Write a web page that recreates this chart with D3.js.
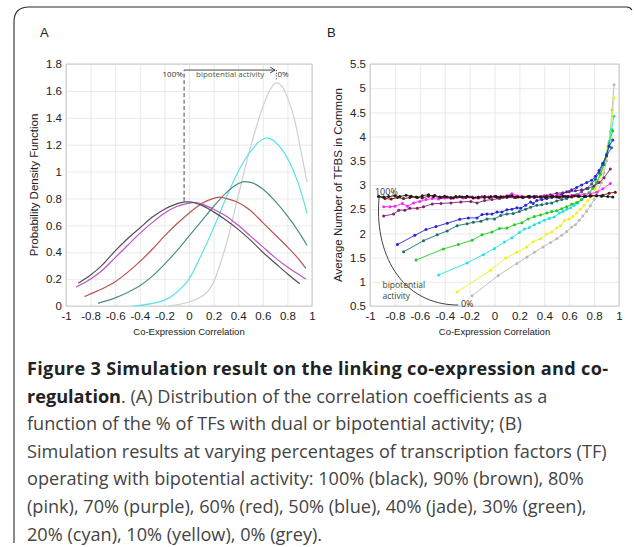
<!DOCTYPE html>
<html><head><meta charset="utf-8">
<script src="https://cdn.jsdelivr.net/npm/d3@7"></script>
<style>html,body{margin:0;padding:0;background:#fff;} svg{display:block}</style>
</head><body>
<svg id="c" width="634" height="547"></svg>
<script>
// ---------------- DATA ----------------
const xTicks = [-1,-0.8,-0.6,-0.4,-0.2,0,0.2,0.4,0.6,0.8,1];
const xTickLabels = ["-1","-0.8","-0.6","-0.4","-0.2","0","0.2","0.4","0.6","0.8","1"];
const aYTicks = [0,0.2,0.4,0.6,0.8,1,1.2,1.4,1.6,1.8];
const aYTickLabels = ["0","0.2","0.4","0.6","0.8","1","1.2","1.4","1.6","1.8"];
const bYTicks = [0.5,1,1.5,2,2.5,3,3.5,4,4.5,5,5.5];
const bYTickLabels = ["0.5","1","1.5","2","2.5","3","3.5","4","4.5","5","5.5"];

// Panel A: probability density curves
const aBlack = [[-0.9,0.17],[-0.8,0.23],[-0.7,0.31],[-0.6,0.41],[-0.5,0.50],[-0.4,0.58],[-0.3,0.66],[-0.2,0.72],[-0.1,0.76],[-0.03,0.775],[0,0.775],[0.1,0.75],[0.2,0.70],[0.3,0.64],[0.4,0.57],[0.5,0.49],[0.6,0.40],[0.7,0.32],[0.8,0.24],[0.9,0.165]];
const aPink = [[-0.92,0.14],[-0.8,0.20],[-0.7,0.27],[-0.6,0.36],[-0.5,0.45],[-0.4,0.54],[-0.3,0.62],[-0.2,0.69],[-0.1,0.74],[0,0.765],[0.05,0.77],[0.1,0.76],[0.2,0.72],[0.3,0.67],[0.4,0.60],[0.5,0.52],[0.6,0.44],[0.7,0.36],[0.8,0.29],[0.9,0.23],[0.95,0.20]];
const aBrown = [[-0.85,0.07],[-0.8,0.09],[-0.7,0.13],[-0.6,0.18],[-0.5,0.25],[-0.4,0.33],[-0.3,0.42],[-0.2,0.52],[-0.1,0.61],[0,0.69],[0.1,0.76],[0.2,0.80],[0.25,0.81],[0.3,0.80],[0.4,0.77],[0.5,0.71],[0.6,0.62],[0.7,0.53],[0.8,0.44],[0.9,0.34],[0.95,0.28]];
const aJade = [[-0.74,0.02],[-0.6,0.06],[-0.5,0.10],[-0.4,0.15],[-0.3,0.22],[-0.2,0.31],[-0.1,0.41],[0,0.52],[0.1,0.63],[0.2,0.74],[0.3,0.84],[0.4,0.91],[0.45,0.925],[0.5,0.92],[0.6,0.87],[0.7,0.78],[0.8,0.67],[0.9,0.54],[0.96,0.45]];
const aCyan = [[-0.45,0.00],[-0.21,0.04],[-0.09,0.11],[0,0.20],[0.1,0.38],[0.2,0.58],[0.3,0.80],[0.4,1.00],[0.5,1.15],[0.6,1.24],[0.63,1.25],[0.7,1.22],[0.8,1.10],[0.9,0.88],[0.96,0.69]];
const aGrey = [[-0.17,0.00],[0.06,0.05],[0.19,0.16],[0.3,0.45],[0.4,0.82],[0.5,1.18],[0.6,1.48],[0.66,1.61],[0.71,1.66],[0.76,1.63],[0.8,1.55],[0.86,1.38],[0.9,1.20],[0.96,0.92]];
const aSeries = [aBlack, aPink, aBrown, aJade, aCyan, aGrey];
const aColors = ["#505050","#c34fc6","#b5564e","#4e8c8a","#5fe3e3","#cfcfcf"];

// Panel B: average number of TFBS in common
const bGrey = [[-0.18,0.71],[0.03,1.13],[0.18,1.38],[0.26,1.51],[0.32,1.61],[0.39,1.72],[0.45,1.81],[0.50,1.89],[0.54,1.96],[0.58,2.04],[0.62,2.13],[0.65,2.18],[0.68,2.27],[0.71,2.36],[0.74,2.46],[0.77,2.57],[0.80,2.70],[0.83,2.86],[0.86,3.05],[0.88,3.25],[0.90,3.5],[0.92,3.8],[0.93,4.1],[0.945,4.55],[0.96,5.07]];
const bYellow = [[-0.30,0.79],[-0.03,1.24],[0.09,1.49],[0.18,1.61],[0.26,1.72],[0.31,1.83],[0.37,1.89],[0.42,1.99],[0.46,2.03],[0.50,2.11],[0.53,2.16],[0.56,2.26],[0.60,2.30],[0.63,2.35],[0.66,2.42],[0.69,2.50],[0.72,2.58],[0.75,2.68],[0.78,2.78],[0.81,2.92],[0.84,3.08],[0.87,3.3],[0.89,3.55],[0.91,3.8],[0.93,4.05],[0.945,4.4],[0.96,4.8]];
const bCyan = [[-0.45,1.14],[-0.22,1.39],[-0.09,1.56],[0.00,1.69],[0.08,1.82],[0.14,1.91],[0.20,2.02],[0.24,2.09],[0.28,2.12],[0.32,2.18],[0.36,2.22],[0.40,2.27],[0.44,2.31],[0.48,2.34],[0.52,2.42],[0.55,2.45],[0.58,2.50],[0.61,2.53],[0.64,2.58],[0.67,2.63],[0.70,2.70],[0.73,2.76],[0.76,2.84],[0.79,2.94],[0.82,3.06],[0.85,3.22],[0.88,3.45],[0.90,3.65],[0.92,3.9],[0.94,4.15],[0.96,4.42]];
const bGreen = [[-0.63,1.45],[-0.41,1.68],[-0.29,1.77],[-0.18,1.86],[-0.10,1.97],[-0.02,2.03],[0.04,2.10],[0.10,2.11],[0.16,2.18],[0.22,2.22],[0.27,2.30],[0.32,2.35],[0.37,2.38],[0.42,2.42],[0.46,2.45],[0.50,2.47],[0.54,2.51],[0.58,2.55],[0.62,2.60],[0.66,2.64],[0.70,2.70],[0.73,2.76],[0.76,2.84],[0.79,2.93],[0.82,3.05],[0.85,3.22],[0.88,3.42],[0.90,3.62],[0.92,3.85],[0.95,4.12]];
const bJade = [[-0.73,1.62],[-0.57,1.85],[-0.46,1.97],[-0.38,2.05],[-0.30,2.16],[-0.22,2.20],[-0.17,2.23],[-0.11,2.25],[-0.06,2.30],[0.00,2.30],[0.05,2.37],[0.10,2.40],[0.15,2.41],[0.20,2.45],[0.25,2.50],[0.29,2.54],[0.34,2.58],[0.38,2.59],[0.42,2.62],[0.46,2.63],[0.50,2.67],[0.54,2.70],[0.58,2.72],[0.62,2.76],[0.66,2.80],[0.70,2.86],[0.74,2.93],[0.78,3.02],[0.81,3.12],[0.84,3.26],[0.87,3.42],[0.90,3.6],[0.94,3.77]];
const bBlue = [[-0.78,1.77],[-0.64,1.96],[-0.55,2.08],[-0.47,2.14],[-0.38,2.21],[-0.28,2.29],[-0.21,2.32],[-0.14,2.32],[-0.10,2.39],[-0.06,2.40],[-0.02,2.40],[0.02,2.44],[0.06,2.44],[0.10,2.49],[0.14,2.50],[0.18,2.53],[0.21,2.52],[0.25,2.58],[0.29,2.65],[0.31,2.62],[0.34,2.68],[0.38,2.70],[0.42,2.72],[0.46,2.74],[0.50,2.78],[0.54,2.81],[0.58,2.86],[0.62,2.90],[0.66,2.95],[0.70,3.00],[0.74,3.05],[0.78,3.10],[0.81,3.18],[0.84,3.30],[0.87,3.45],[0.90,3.62],[0.92,3.8],[0.95,3.93]];
const bPurple = [[-0.89,2.36],[-0.81,2.40],[-0.77,2.48],[-0.72,2.48],[-0.68,2.52],[-0.62,2.52],[-0.57,2.55],[-0.50,2.61],[-0.43,2.62],[-0.35,2.63],[-0.27,2.65],[-0.19,2.66],[-0.14,2.63],[-0.08,2.68],[-0.02,2.70],[0.04,2.72],[0.10,2.74],[0.16,2.74],[0.22,2.75],[0.28,2.74],[0.34,2.76],[0.40,2.78],[0.45,2.80],[0.50,2.83],[0.55,2.84],[0.60,2.86],[0.65,2.88],[0.70,2.90],[0.75,2.93],[0.80,2.98],[0.84,3.05],[0.88,3.15],[0.93,3.33]];
const bPink = [[-0.89,2.55],[-0.84,2.55],[-0.80,2.56],[-0.74,2.62],[-0.70,2.56],[-0.65,2.63],[-0.60,2.66],[-0.55,2.70],[-0.50,2.72],[-0.45,2.71],[-0.40,2.73],[-0.35,2.72],[-0.30,2.74],[-0.25,2.73],[-0.20,2.75],[-0.15,2.74],[-0.10,2.76],[-0.05,2.75],[0.00,2.77],[0.05,2.76],[0.10,2.78],[0.14,2.82],[0.18,2.78],[0.22,2.77],[0.27,2.76],[0.32,2.77],[0.37,2.76],[0.42,2.78],[0.47,2.77],[0.52,2.78],[0.57,2.77],[0.62,2.79],[0.67,2.80],[0.72,2.81],[0.77,2.82],[0.82,2.85],[0.87,2.92],[0.93,3.03]];
const bBrown = [[-0.93,2.76],[-0.88,2.72],[-0.83,2.71],[-0.78,2.74],[-0.73,2.72],[-0.68,2.74],[-0.63,2.75],[-0.58,2.73],[-0.53,2.77],[-0.48,2.79],[-0.43,2.74],[-0.38,2.75],[-0.33,2.73],[-0.28,2.76],[-0.23,2.74],[-0.18,2.75],[-0.13,2.73],[-0.08,2.74],[-0.03,2.76],[0.02,2.74],[0.07,2.75],[0.12,2.77],[0.17,2.74],[0.22,2.75],[0.27,2.76],[0.32,2.74],[0.37,2.75],[0.42,2.77],[0.47,2.76],[0.52,2.74],[0.57,2.76],[0.62,2.75],[0.67,2.77],[0.72,2.76],[0.77,2.77],[0.82,2.78],[0.87,2.79],[0.92,2.83],[0.97,2.85]];
const bBlack = [[-0.93,2.77],[-0.89,2.75],[-0.85,2.76],[-0.80,2.78],[-0.76,2.76],[-0.71,2.79],[-0.67,2.77],[-0.62,2.74],[-0.58,2.78],[-0.53,2.80],[-0.49,2.76],[-0.44,2.75],[-0.40,2.77],[-0.35,2.74],[-0.31,2.76],[-0.26,2.75],[-0.22,2.77],[-0.17,2.73],[-0.13,2.75],[-0.08,2.76],[-0.04,2.74],[0.01,2.77],[0.05,2.75],[0.10,2.76],[0.14,2.78],[0.19,2.75],[0.23,2.74],[0.28,2.77],[0.32,2.76],[0.37,2.75],[0.41,2.74],[0.46,2.76],[0.50,2.75],[0.55,2.77],[0.59,2.76],[0.64,2.78],[0.68,2.77],[0.73,2.76],[0.77,2.78],[0.82,2.78],[0.86,2.77],[0.91,2.76],[0.95,2.75]];
const bSeries = [bGrey, bYellow, bCyan, bGreen, bJade, bBlue, bPurple, bPink, bBrown, bBlack];
const bColors = ["#b9b9b9","#f2ef1c","#22e2e2","#22cc22","#1e6e6c","#2626dc","#7a2272","#ff22ff","#6e1212","#1a1a1a"];

const captionLines = [
  [["Figure 3 Simulation result on the linking co-expression and co-", true]],
  [["regulation", true], [". (A) Distribution of the correlation coefficients as a", false]],
  [["function of the % of TFs with dual or bipotential activity; (B)", false]],
  [["Simulation results at varying percentages of transcription factors (TF)", false]],
  [["operating with bipotential activity: 100% (black), 90% (brown), 80%", false]],
  [["(pink), 70% (purple), 60% (red), 50% (blue), 40% (jade), 30% (green),", false]],
  [["20% (cyan), 10% (yellow), 0% (grey).", false]]
];

// ---------------- DRAW ----------------
const svg = d3.select("#c");
const tickFont = "'Liberation Sans Narrow','Liberation Sans',Arial,sans-serif";
const labFont = "'Liberation Sans',Arial,sans-serif";

// outer frame
svg.append("path")
  .attr("d","M14,543 V22 Q14,7 29,7 H627 Q630,7 632,10")
  .attr("fill","none").attr("stroke","#2a2a2a").attr("stroke-width",1.1);

function panel(opts){
  const {left,right,top,bottom,yDomain,yTicks,yLabels,yTitle,yTitleX,letter,letterX} = opts;
  const x = d3.scaleLinear().domain([-1,1]).range([left,right]);
  const y = d3.scaleLinear().domain(yDomain).range([bottom,top]);
  const g = svg.append("g");
  g.append("g").attr("transform",`translate(0,${bottom})`)
    .call(d3.axisBottom(x).tickValues(xTicks).tickSize(-(bottom-top)).tickFormat(""))
    .call(s=>{s.select(".domain").remove(); s.selectAll("line").attr("stroke","#e4e4e4").attr("stroke-width",0.8);});
  g.append("g").attr("transform",`translate(${left},0)`)
    .call(d3.axisLeft(y).tickValues(yTicks).tickSize(-(right-left)).tickFormat(""))
    .call(s=>{s.select(".domain").remove(); s.selectAll("line").attr("stroke","#e4e4e4").attr("stroke-width",0.8);});
  g.append("rect").attr("x",left).attr("y",top).attr("width",right-left).attr("height",bottom-top)
    .attr("fill","none").attr("stroke","#c4c4c4").attr("stroke-width",0.9);
  const xa = g.append("g").attr("transform",`translate(0,${bottom})`)
    .call(d3.axisBottom(x).tickValues(xTicks).tickSize(0).tickPadding(6).tickFormat((d,i)=>xTickLabels[i]));
  xa.select(".domain").remove();
  xa.selectAll("text").attr("font-family",tickFont).attr("font-size",11.5).attr("fill","#222");
  const ya = g.append("g").attr("transform",`translate(${left},0)`)
    .call(d3.axisLeft(y).tickValues(yTicks).tickSize(0).tickPadding(4).tickFormat((d,i)=>yLabels[i]));
  ya.select(".domain").remove();
  ya.selectAll("text").attr("font-family",tickFont).attr("font-size",11.5).attr("fill","#222");
  svg.append("text").attr("x",(left+right)/2).attr("y",335).attr("text-anchor","middle")
    .attr("font-family",tickFont).attr("font-size",9.5).attr("fill","#222").text("Co-Expression Correlation");
  svg.append("text").attr("transform",`translate(${yTitleX},${(top+bottom)/2}) rotate(-90)`)
    .attr("text-anchor","middle").attr("font-family",labFont).attr("font-size",11.5).attr("fill","#222").text(yTitle);
  svg.append("text").attr("x",letterX).attr("y",37).attr("font-family",labFont).attr("font-size",13).attr("fill","#222").text(letter);
  return {x,y,g};
}

// ---- Panel A ----
const A = panel({left:66,right:312,top:64,bottom:306,yDomain:[0,1.8],yTicks:aYTicks,yLabels:aYTickLabels,
  yTitle:"Probability Density Function",yTitleX:38,letter:"A",letterX:40});
const lineA = d3.line().x(d=>A.x(d[0])).y(d=>A.y(d[1])).curve(d3.curveMonotoneX);
aSeries.slice().reverse().forEach((s,i)=>{
  const c = aColors[aSeries.length-1-i];
  A.g.append("path").attr("d",lineA(s)).attr("fill","none").attr("stroke",c).attr("stroke-width",1.2);
});
const ann = A.g.append("g");
ann.append("line").attr("x1",A.x(-0.04)).attr("x2",A.x(-0.04)).attr("y1",A.y(0.78)).attr("y2",A.y(1.755))
  .attr("stroke","#333").attr("stroke-width",0.9).attr("stroke-dasharray","4,2.5");
ann.append("line").attr("x1",A.x(-0.04)).attr("x2",A.x(0.70)).attr("y1",A.y(1.755)).attr("y2",A.y(1.755))
  .attr("stroke","#333").attr("stroke-width",0.9);
ann.append("path").attr("d",`M${A.x(0.70)-5},${A.y(1.755)-3} L${A.x(0.70)},${A.y(1.755)} L${A.x(0.70)-5},${A.y(1.755)+3}`)
  .attr("fill","none").attr("stroke","#333").attr("stroke-width",0.9);
ann.append("line").attr("x1",A.x(0.71)).attr("x2",A.x(0.71)).attr("y1",A.y(1.755)).attr("y2",A.y(1.68))
  .attr("stroke","#333").attr("stroke-width",0.9).attr("stroke-dasharray","1.2,1.5");
const annFont = "'Open Sans','Noto Sans',sans-serif";
ann.append("text").attr("x",A.x(-0.05)).attr("y",A.y(1.70)).attr("text-anchor","end")
  .attr("font-family",annFont).attr("font-size",8).attr("fill","#333").text("100%");
ann.append("text").attr("x",A.x(0.335)).attr("y",A.y(1.70)).attr("text-anchor","middle")
  .attr("font-family",annFont).attr("font-size",8).attr("fill","#4a5a3e").text("bipotential activity");
ann.append("text").attr("x",A.x(0.72)).attr("y",A.y(1.70))
  .attr("font-family",annFont).attr("font-size",8).attr("fill","#333").text("0%");

// ---- Panel B ----
const B = panel({left:370,right:619,top:64,bottom:306,yDomain:[0.5,5.5],yTicks:bYTicks,yLabels:bYTickLabels,
  yTitle:"Average Number of TFBS in Common",yTitleX:342,letter:"B",letterX:327});
const lineB = d3.line().x(d=>B.x(d[0])).y(d=>B.y(d[1]));
bSeries.forEach((s,i)=>{
  const gg = B.g.append("g");
  gg.append("path").attr("d",lineB(s)).attr("fill","none").attr("stroke",bColors[i]).attr("stroke-width",0.9);
  gg.selectAll("circle").data(s).join("circle").attr("cx",d=>B.x(d[0])).attr("cy",d=>B.y(d[1]))
    .attr("r",1.5).attr("fill",bColors[i]);
});
const arcPts = [[-0.925,2.79],[-0.975,1.6],[-0.75,0.52],[-0.29,0.52]];
B.g.append("path")
  .attr("d",`M${B.x(arcPts[0][0])},${B.y(arcPts[0][1])} C${B.x(arcPts[1][0])},${B.y(arcPts[1][1])} ${B.x(arcPts[2][0])},${B.y(arcPts[2][1])} ${B.x(arcPts[3][0])},${B.y(arcPts[3][1])}`)
  .attr("fill","none").attr("stroke","#444").attr("stroke-width",1);
B.g.append("text").attr("x",B.x(-0.96)).attr("y",B.y(2.8)).attr("font-family",annFont).attr("font-size",9).attr("fill","#333").text("100%");
B.g.append("text").attr("x",B.x(-0.9)).attr("y",B.y(0.87)).attr("font-family",annFont).attr("font-size",8.5).attr("fill","#3d4a30").text("bipotential");
B.g.append("text").attr("x",B.x(-0.9)).attr("y",B.y(0.64)).attr("font-family",annFont).attr("font-size",8.5).attr("fill","#3d4a30").text("activity");
B.g.append("text").attr("x",B.x(-0.27)).attr("y",B.y(0.47)).attr("font-family",annFont).attr("font-size",9).attr("fill","#333").text("0%");

// ---- Caption ----
const capFont = "'Open Sans','Noto Sans',sans-serif";
const cap = svg.append("g");
const probe = cap.append("text").attr("font-family",capFont).attr("font-size",20).text(captionLines[3][0][0]);
const w20 = probe.node().getComputedTextLength();
probe.remove();
const capSize = 20*580/w20;
captionLines.forEach((parts,i)=>{
  const t = cap.append("text").attr("x",27).attr("y",375+i*27.6)
    .attr("font-family",capFont).attr("font-size",capSize).attr("fill","#333");
  if(i===0){ t.attr("textLength",581).attr("lengthAdjust","spacing"); }
  parts.forEach(p=>{
    t.append("tspan").attr("font-weight",p[1]?"bold":"normal").attr("fill",p[1]?"#222":"#444").text(p[0]);
  });
});
</script>
</body></html>
